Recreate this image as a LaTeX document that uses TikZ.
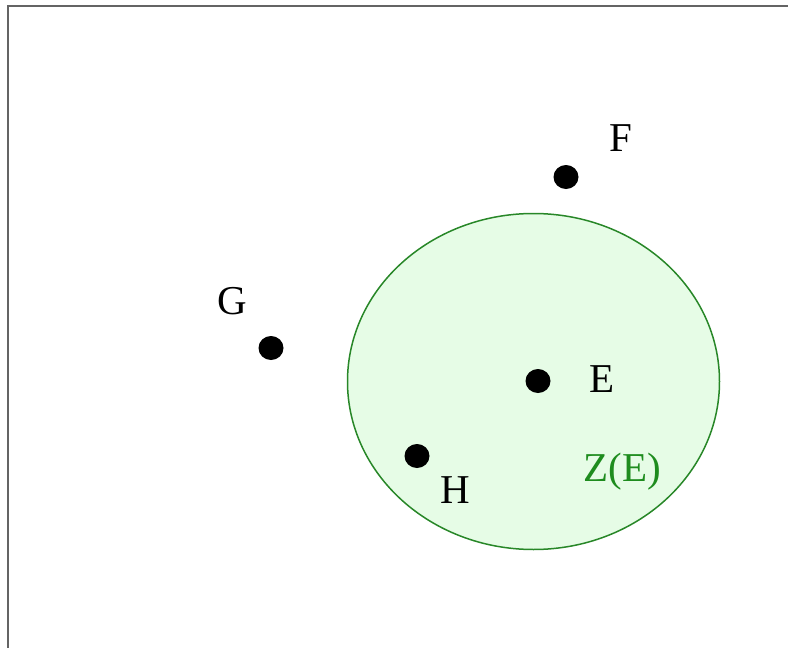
\documentclass[tikz,border=0pt]{standalone}
\usepackage{fontspec}
\setmainfont{Liberation Serif}
\usetikzlibrary{shapes.geometric}
\definecolor{zfill}{RGB}{230,252,230}
\definecolor{zline}{RGB}{40,135,40}
\definecolor{ztext}{RGB}{30,140,30}
\definecolor{frame}{RGB}{100,100,100}
\begin{document}
\begin{tikzpicture}[x=1pt,y=-1pt,
  dot/.style={circle,fill=black,inner sep=0pt,minimum width=25pt,minimum height=24pt,ellipse},
  lbl/.style={inner sep=0pt,font=\fontsize{41}{48}\selectfont},
]
\useasboundingbox (0,0) rectangle (788,648);
\draw[frame,line width=2.2pt] (8,660) -- (8,6) -- (800,6);
\node[ellipse,draw=zline,fill=zfill,line width=1.5pt,minimum width=372pt,minimum height=336pt,inner sep=0pt] (Z) at (533.5,381.5) {};
\node[dot] (F) at (566,177) {};
\node[dot] (G) at (271,348) {};
\node[dot] (E) at (538,381) {};
\node[dot] (H) at (417,456) {};
\node[lbl] (lF) at (621,138) {F};
\node[lbl] (lG) at (232,301) {G};
\node[lbl] (lE) at (602,379) {E};
\node[lbl] (lH) at (455,490) {H};
\node[lbl,text=ztext] (lZ) at (622,472) {Z(E)};
\end{tikzpicture}
\end{document}
